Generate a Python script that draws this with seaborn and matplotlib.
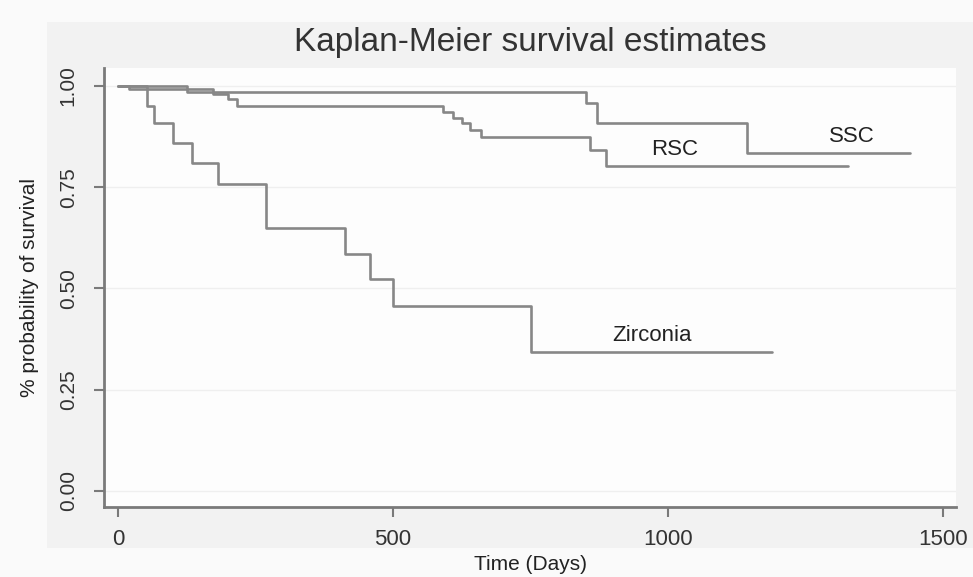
# -*- coding: utf-8 -*-
"""
Kaplan-Meier survival estimates for three crown types
"""

import pandas as pd
import seaborn as sns
import matplotlib.pyplot as plt
from matplotlib.patches import Rectangle

# step data (time in days, survival after the step)
ssc_days = [0, 125, 851, 872, 1145, 1440]
ssc_surv = [1.0, 0.984, 0.957, 0.908, 0.834, 0.834]

rsc_days = [0, 20, 173, 200, 216, 592, 610, 625, 640, 660, 858, 888, 1327]
rsc_surv = [1.0, 0.993, 0.980, 0.968, 0.951, 0.935, 0.922, 0.908, 0.891,
            0.875, 0.842, 0.803, 0.803]

zir_days = [0, 53, 65, 100, 134, 182, 269, 413, 459, 500, 752, 1190]
zir_surv = [1.0, 0.951, 0.908, 0.858, 0.809, 0.757, 0.650, 0.585, 0.523,
            0.457, 0.342, 0.342]

groups = ["SSC", "RSC", "Zirconia"]
label_pos = {"SSC": (1335, 0.874), "RSC": (1013, 0.842), "Zirconia": (971, 0.385)}
x_ticks = [0, 500, 1000, 1500]
y_ticks = [0.0, 0.25, 0.5, 0.75, 1.0]

frames = []
for name, days, surv in zip(groups, [ssc_days, rsc_days, zir_days],
                            [ssc_surv, rsc_surv, zir_surv]):
    frames.append(pd.DataFrame({"group": name, "time": days, "surv": surv}))
km_df = pd.concat(frames, ignore_index=True)

sns.set_style("white")
plt.rcParams["font.family"] = ["Liberation Sans", "DejaVu Sans"]

fig = plt.figure(figsize=(9.73, 5.77), dpi=100, facecolor="#fafafa")
# shaded graph region behind the plot, Stata style
fig.patches.append(Rectangle((0.048, 0.050), 0.952, 0.912, transform=fig.transFigure,
                             facecolor="#f2f2f2", edgecolor="none", zorder=-10))
ax = fig.add_axes([0.107, 0.121, 0.876, 0.761])
ax.set_zorder(1)
ax.set_facecolor("#fdfdfd")

line_grey = "#878787"
for name in groups:
    sns.lineplot(data=km_df[km_df["group"] == name], x="time", y="surv",
                 drawstyle="steps-post", color=line_grey, linewidth=1.9,
                 estimator=None, ax=ax)

for name in groups:
    x, y = label_pos[name]
    ax.text(x, y, name, fontsize=16, color="#222222", ha="center", va="center")

ax.set_xlim(-25, 1525)
ax.set_ylim(-0.04, 1.044)
ax.set_xticks(x_ticks)
ax.set_yticks(y_ticks)
ax.set_yticklabels(["0.00", "0.25", "0.50", "0.75", "1.00"], rotation=90, va="center")
ax.yaxis.grid(True, color="#efefef", linewidth=1)

for side in ["top", "right"]:
    ax.spines[side].set_visible(False)
for side in ["left", "bottom"]:
    ax.spines[side].set_color("#7a7a7a")
    ax.spines[side].set_linewidth(2)

ax.tick_params(axis="x", length=7, width=1.5, color="#7a7a7a", labelsize=16,
               labelcolor="#333333", pad=9, bottom=True)
ax.tick_params(axis="y", length=7, width=1.5, color="#7a7a7a", labelsize=15,
               labelcolor="#333333", pad=12, left=True)

ax.set_xlabel("Time (Days)", fontsize=15, color="#222222", labelpad=3)
ax.set_ylabel("% probability of survival", fontsize=15, color="#222222", labelpad=14)
ax.set_title("Kaplan-Meier survival estimates", fontsize=24, color="#333333", pad=12)

fig.savefig("out.png", dpi=100, facecolor=fig.get_facecolor())
